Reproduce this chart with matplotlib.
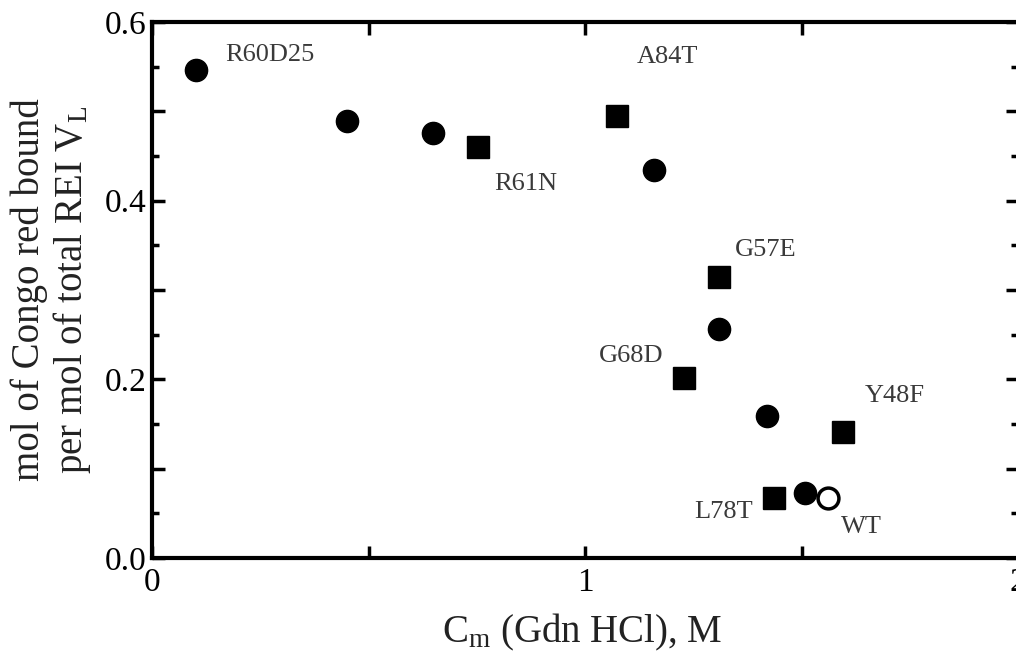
import matplotlib
matplotlib.use('Agg')
import matplotlib.pyplot as plt
from matplotlib.ticker import MultipleLocator

plt.rcParams['font.family'] = ['Liberation Serif', 'DejaVu Serif']
plt.rcParams['mathtext.fontset'] = 'custom'
plt.rcParams['mathtext.rm'] = 'Liberation Serif'
plt.rcParams['mathtext.it'] = 'Liberation Serif'

# filled circles
circ_x = [0.102, 0.450, 0.649, 1.159, 1.309, 1.420, 1.508]
circ_y = [0.546, 0.489, 0.476, 0.434, 0.256, 0.159, 0.073]
# filled squares (labelled mutants)
sq_names = ['R61N', 'A84T', 'G57E', 'G68D', 'Y48F', 'L78T']
sq_x = [0.753, 1.074, 1.309, 1.229, 1.596, 1.436]
sq_y = [0.460, 0.495, 0.315, 0.201, 0.141, 0.067]
# open circle = wild type
wt_x = [1.561]
wt_y = [0.067]

# label text and where it sits
lab_text = ['R60D25', 'A84T', 'R61N', 'G57E', 'G68D', 'Y48F', 'L78T', 'WT']
lab_x = [0.169, 1.120, 0.790, 1.346, 1.180, 1.647, 1.388, 1.591]
lab_y = [0.563, 0.561, 0.419, 0.345, 0.226, 0.181, 0.051, 0.035]
lab_ha = ['left', 'left', 'left', 'left', 'right', 'left', 'right', 'left']

fig = plt.figure(figsize=(10.16, 6.6), dpi=100)
ax = fig.add_axes([152/1016., 102/660., 866/1016., 536/660.])
ax.set_xlim(0, 2)
ax.set_ylim(0, 0.6)

ax.plot(circ_x, circ_y, 'o', color='black', markersize=16, clip_on=False)
ax.plot(sq_x, sq_y, 's', color='black', markersize=16, clip_on=False)
ax.plot(wt_x, wt_y, 'o', markerfacecolor='white', markeredgecolor='black',
        markeredgewidth=2.5, markersize=15)

for t, x, y, ha in zip(lab_text, lab_x, lab_y, lab_ha):
    ax.text(x, y, t, ha=ha, va='center', fontsize=19, color='#3a3a3a')

# ticks: inward on all four sides
ax.yaxis.set_minor_locator(MultipleLocator(0.05))
ax.set_xticks([0, 0.5, 1, 1.5, 2])
ax.set_xticklabels(['0', '', '1', '', '2'])
ax.set_yticks([0, 0.1, 0.2, 0.3, 0.4, 0.5, 0.6])
ax.set_yticklabels(['0.0', '', '0.2', '', '0.4', '', '0.6'])
ax.tick_params(which='both', direction='in', top=True, right=True, width=2.5,
               labelsize=24, colors='black')
ax.tick_params(which='major', length=9)
ax.tick_params(which='minor', length=5)
ax.tick_params(axis='x', pad=7)
ax.tick_params(axis='y', pad=4)
for s in ax.spines.values():
    s.set_linewidth(3)

fig.text(52/1016., 1 - 290/660., 'mol of Congo red bound\nper mol of total REI V$_\\mathrm{L}$',
         rotation=90, ha='center', va='center', multialignment='center',
         fontsize=28, linespacing=1.1, color='#222222')
fig.text(582/1016., 1 - 632/660., 'C$_\\mathrm{m}$ (Gdn HCl), M',
         ha='center', va='center', fontsize=28, color='#222222')

plt.savefig('out.png', dpi=100)
